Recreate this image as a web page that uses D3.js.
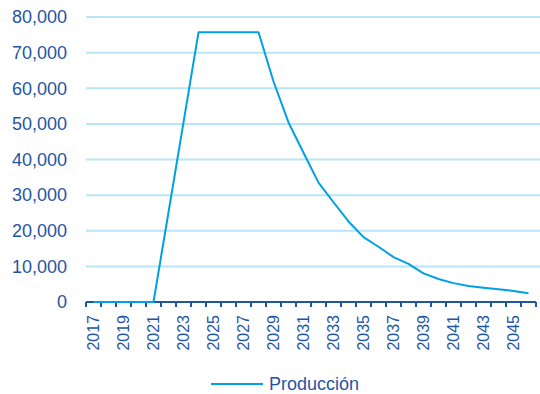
<!DOCTYPE html>
<html>
<head>
<meta charset="utf-8">
<script src="https://cdn.jsdelivr.net/npm/d3@7"></script>
<style>
  body { margin: 0; background: #fff; }
  svg { display: block; font-family: "Liberation Sans", Arial, sans-serif; }
</style>
</head>
<body>
<div id="chart"></div>
<script>
const years = d3.range(2017, 2047).map(String);
const produccion = [
  0, 0, 0, 0, 0, 25200, 50400, 75700, 75700, 75700, 75700, 75700,
  61900, 50400, 41900, 33500, 28000, 22600, 18200, 15500, 12600, 10700,
  8050, 6450, 5300, 4500, 4000, 3550, 3100, 2450
];
const yTicks = [0, 10000, 20000, 30000, 40000, 50000, 60000, 70000, 80000];
const seriesName = "Producción";

const width = 540;
const height = 394;
const margin = {top: 17, right: 4, bottom: 92, left: 86};

const svg = d3.select("#chart").append("svg").attr("width", width).attr("height", height);

const x = d3.scaleBand().domain(years).range([margin.left, margin.left + 450]);
const y = d3.scaleLinear().domain([0, 80000]).range([height - margin.bottom, margin.top]);

const axisColor = "#1f55a5";
const lineColor = "#00a0e3";
const fmt = d3.format(",");

// gridlines
svg.append("g")
  .selectAll("line")
  .data(yTicks.filter(d => d > 0))
  .join("line")
  .attr("x1", margin.left).attr("x2", width)
  .attr("y1", d => y(d)).attr("y2", d => y(d))
  .attr("stroke", "#b9e5f7").attr("stroke-width", 2);

// y labels
svg.append("g")
  .selectAll("text")
  .data(yTicks)
  .join("text")
  .attr("x", 67).attr("y", d => y(d)).attr("dy", "0.35em")
  .attr("text-anchor", "end")
  .attr("fill", axisColor).attr("font-size", 18)
  .text(d => fmt(d));

// x axis
const xAxis = svg.append("g")
  .attr("transform", `translate(0,${y(0)})`);
xAxis.append("line")
  .attr("x1", margin.left).attr("x2", x.range()[1])
  .attr("stroke", axisColor).attr("stroke-width", 2);
xAxis.selectAll("line.tick")
  .data(years.concat([null]))
  .join("line")
  .attr("class", "tick")
  .attr("x1", (d, i) => margin.left + i * x.step())
  .attr("x2", (d, i) => margin.left + i * x.step())
  .attr("y1", 0).attr("y2", 5)
  .attr("stroke", axisColor).attr("stroke-width", 2);
xAxis.selectAll("text")
  .data(years.filter((d, i) => i % 2 === 0))
  .join("text")
  .attr("transform", d => `translate(${x(d) + x.bandwidth() / 2},13) rotate(-90)`)
  .attr("dy", "0.35em")
  .attr("text-anchor", "end")
  .attr("fill", axisColor).attr("font-size", 16)
  .text(d => d);

// line
const line = d3.line()
  .x((d, i) => x(years[i]) + x.bandwidth() / 2)
  .y(d => y(d));
svg.append("path")
  .datum(produccion)
  .attr("fill", "none")
  .attr("stroke", lineColor)
  .attr("stroke-width", 2)
  .attr("stroke-linejoin", "round")
  .attr("d", line);

// legend
const legend = svg.append("g").attr("transform", "translate(211,384)");
legend.append("line").attr("x1", 0).attr("x2", 52)
  .attr("stroke", lineColor).attr("stroke-width", 2);
legend.append("text").attr("x", 58).attr("dy", "0.35em")
  .attr("fill", axisColor).attr("font-size", 18)
  .text(seriesName);
</script>
</body>
</html>
